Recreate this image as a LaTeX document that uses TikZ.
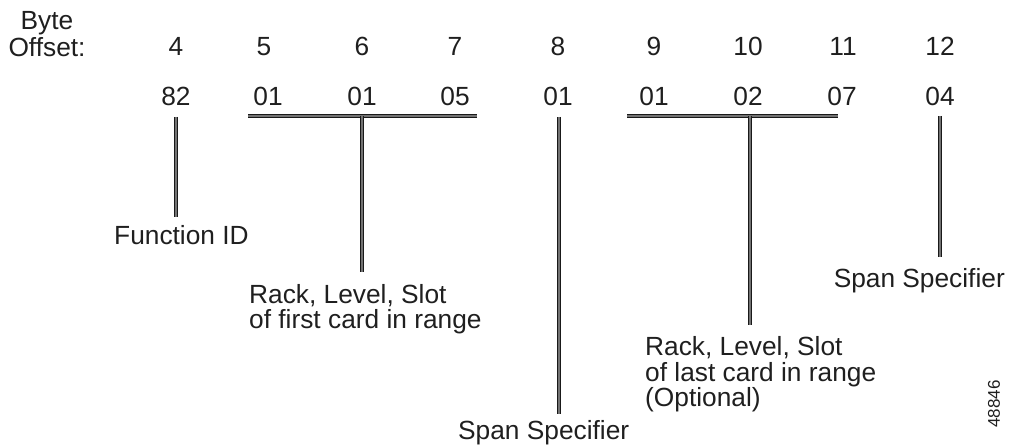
\documentclass[tikz,border=0pt]{standalone}
\usepackage{fontspec}
\setmainfont{Liberation Sans}
\begin{document}
\begin{tikzpicture}[x=1pt,y=-1pt,
  txt/.style={font=\fontsize{26.3}{25.5}\selectfont, inner sep=0pt, text=black!88},
  lbl/.style={txt, align=left, anchor=north west},
  conn/.style={draw=black!90, line width=1.2pt, double=black!55, double distance=1.4pt}]
\useasboundingbox (0,0) rectangle (1011,446);
% header
\node[txt, anchor=base] (byte) at (47,30) {Byte};
\node[txt, anchor=base] (offset) at (47,57) {Offset:};
% offsets
\node[txt, anchor=base] (o4)  at (176,56) {4};
\node[txt, anchor=base] (o5)  at (264,56) {5};
\node[txt, anchor=base] (o6)  at (362,56) {6};
\node[txt, anchor=base] (o7)  at (455,56) {7};
\node[txt, anchor=base] (o8)  at (558,56) {8};
\node[txt, anchor=base] (o9)  at (654,56) {9};
\node[txt, anchor=base] (o10) at (748,56) {10};
\node[txt, anchor=base] (o11) at (843,56) {11};
\node[txt, anchor=base] (o12) at (940,56) {12};
% values
\node[txt, anchor=base] (v4)  at (176,106) {82};
\node[txt, anchor=base] (v5)  at (268,106) {01};
\node[txt, anchor=base] (v6)  at (362,106) {01};
\node[txt, anchor=base] (v7)  at (455,106) {05};
\node[txt, anchor=base] (v8)  at (558,106) {01};
\node[txt, anchor=base] (v9)  at (654,106) {01};
\node[txt, anchor=base] (v10) at (748,106) {02};
\node[txt, anchor=base] (v11) at (842,106) {07};
\node[txt, anchor=base] (v12) at (940,106) {04};
% labels
\node[txt, anchor=base west] (fid) at (114,244) {Function ID};
\node[lbl] (first) at (249,284) {Rack, Level, Slot\\of first card in range};
\node[txt, anchor=base west] (span1) at (458,439.5) {Span Specifier};
\node[lbl] (last) at (645,336.5) {Rack, Level, Slot\\of last card in range\\(Optional)};
\node[txt, anchor=base east] (span2) at (1005,287) {Span Specifier};
\node[font=\fontsize{17}{17}\selectfont, inner sep=0pt, text=black!88, rotate=90] (fig) at (994,404) {48846};
% connector end points
\coordinate (t4) at (176,117);
\coordinate (e4) at (176,217);
\coordinate (bl1) at (248,116);
\coordinate (br1) at (477,116);
\coordinate (bm1) at (362,116);
\coordinate (e1) at (362,272);
\coordinate (t8) at (559,117);
\coordinate (e8) at (559,414);
\coordinate (bl2) at (627,116);
\coordinate (br2) at (838,116);
\coordinate (bm2) at (750,116);
\coordinate (e2) at (750,325);
\coordinate (t12) at (940,116);
\coordinate (e12) at (940,257);
% connectors
\draw[conn] (t4) -- (e4);
\draw[conn] (bl1) -- (br1);
\draw[conn] (bm1) -- (e1);
\draw[conn] (t8) -- (e8);
\draw[conn] (bl2) -- (br2);
\draw[conn] (bm2) -- (e2);
\draw[conn] (t12) -- (e12);
\end{tikzpicture}
\end{document}
